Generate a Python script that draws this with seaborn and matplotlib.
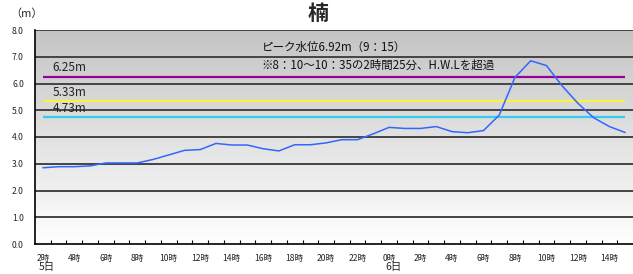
import numpy as np
import matplotlib
matplotlib.use("Agg")
import matplotlib.pyplot as plt
import seaborn as sns
import pandas as pd

# ---- data ----
hours = [2, 3, 4, 5, 6, 7, 8, 9, 10, 11, 12, 13, 14, 15, 16, 17, 18, 19, 20, 21, 22, 23,
         0, 1, 2, 3, 4, 5, 6, 7, 8, 9, 10, 11, 12, 13, 14, 15]
levels = [2.85, 2.89, 2.89, 2.92, 3.03, 3.03, 3.03, 3.16, 3.33, 3.50, 3.53, 3.76,
          3.70, 3.70, 3.56, 3.48, 3.71, 3.71, 3.78, 3.90, 3.90, 4.12,
          4.36, 4.32, 4.32, 4.39, 4.20, 4.16, 4.24, 4.82, 6.23, 6.85, 6.67,
          5.91, 5.26, 4.72, 4.39, 4.17]
ref_values = [6.25, 5.33, 4.73]
ref_labels = ["6.25m", "5.33m", "4.73m"]
ref_colors = ["#990099", "#f5f53a", "#33ccee"]
yticks = [0, 1, 2, 3, 4, 5, 6, 7, 8]
title = "楠"
note1 = "ピーク水位6.92m（9：15）"
note2 = "※8：10～10：35の2時間25分、H.W.Lを超過"
day_labels = {0: "5日", 22: "6日"}

sns.set_theme(style="white")
plt.rcParams['font.family'] = ['Noto Sans CJK JP', 'DejaVu Sans']

df = pd.DataFrame({"i": np.arange(len(levels)), "level": levels})

fig = plt.figure(figsize=(6.33, 2.74), dpi=100)
ax = fig.add_axes([35/633, 1-244/274, 598/633, 214/274])

n = len(levels)
x0, x1 = -0.5, n - 0.5
# gradient background
grad = np.linspace(0, 1, 256).reshape(-1, 1)
vals = 0.77 + 0.23 * grad  # top grey -> bottom white
img = np.dstack([vals, vals, vals])
ax.imshow(img, extent=[x0, x1, 0, 8], aspect='auto', origin='upper', zorder=0)

for y in yticks[1:]:
    ax.axhline(y, color="#444444", lw=1.4, zorder=1)

for v, lab, c in zip(ref_values, ref_labels, ref_colors):
    ax.hlines(v, 0, n - 1, color=c, lw=1.6, zorder=2)
    ax.text(0.6, v + 0.1, lab, fontsize=8.5, color="#222222", va="bottom", ha="left", zorder=4)

sns.lineplot(data=df, x="i", y="level", ax=ax, color="#3366ff", lw=1.1, zorder=3)

ax.text(13.9, 7.1, note1, fontsize=8.3, color="#111111", va="bottom", ha="left", zorder=4)
ax.text(13.9, 6.45, note2, fontsize=8.3, color="#111111", va="bottom", ha="left", zorder=4)

ax.set_xlim(x0, x1)
ax.set_ylim(0, 8)
ax.set_yticks(yticks)
ax.set_yticklabels([f"{y:.1f}" for y in yticks], fontsize=6.2)
ax.set_xticks(np.arange(0, n, 2))
ax.set_xticklabels([f"{hours[k]}時" for k in range(0, n, 2)], fontsize=6.2)
ax.set_xticks(np.arange(0.5, n - 0.5, 1), minor=True)
ax.tick_params(axis='x', which='major', length=0, pad=7)
ax.tick_params(axis='x', which='minor', direction='in', length=3, width=0.8, color='black', bottom=True)
ax.tick_params(axis='y', length=0, pad=8)
ax.set_xlabel("")
ax.set_ylabel("")
for s in ["top", "right"]:
    ax.spines[s].set_visible(False)
for s in ["left", "bottom"]:
    ax.spines[s].set_color("black")
    ax.spines[s].set_linewidth(1.2)

for k, lab in day_labels.items():
    ax.text(k + 0.25, -0.86, lab, fontsize=7.5, ha="center", va="center", transform=ax.transData)

fig.text(10/633, 1-14/274, "（m）", fontsize=8, ha="left", va="center")
fig.text(318/633, 1-13/274, title, fontsize=15, fontweight="bold", ha="center", va="center")

fig.savefig("out.png", dpi=100)
